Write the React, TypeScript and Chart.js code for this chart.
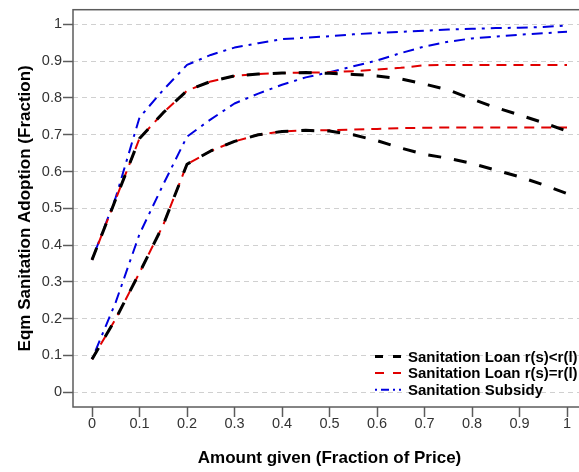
import { useEffect, useRef } from "react";
import { Chart, registerables } from "chart.js";

Chart.register(...registerables);

// Amount given, as a fraction of the price
const amountGiven = [
  0, 0.05, 0.1, 0.15, 0.2, 0.25, 0.3, 0.35, 0.4, 0.45, 0.5,
  0.55, 0.6, 0.65, 0.7, 0.75, 0.8, 0.85, 0.9, 0.95, 1,
];

// Sanitation loan, r(s) < r(l)
const loanLessHigh = [
  0.36, 0.525, 0.69, 0.76, 0.82, 0.845, 0.86, 0.865, 0.868, 0.869, 0.867,
  0.864, 0.86, 0.852, 0.838, 0.822, 0.797, 0.774, 0.754, 0.733, 0.71,
];
const loanLessLow = [
  0.09, 0.2, 0.325, 0.455, 0.62, 0.656, 0.682, 0.7, 0.709, 0.712, 0.71,
  0.7, 0.684, 0.664, 0.647, 0.636, 0.622, 0.604, 0.586, 0.564, 0.54,
];

// Sanitation loan, r(s) = r(l)
const loanEqualHigh = [
  0.36, 0.525, 0.69, 0.76, 0.82, 0.845, 0.86, 0.865, 0.868, 0.869, 0.87,
  0.873, 0.877, 0.882, 0.889, 0.89, 0.89, 0.89, 0.89, 0.89, 0.89,
];
const loanEqualLow = [
  0.09, 0.2, 0.325, 0.455, 0.62, 0.656, 0.682, 0.7, 0.709, 0.712, 0.712,
  0.714, 0.716, 0.718, 0.719, 0.72, 0.72, 0.72, 0.72, 0.72, 0.72,
];

// Sanitation subsidy
const subsidyHigh = [
  0.36, 0.53, 0.747, 0.822, 0.89, 0.917, 0.937, 0.949, 0.96, 0.964, 0.968,
  0.973, 0.977, 0.98, 0.983, 0.986, 0.988, 0.99, 0.991, 0.993, 0.997,
];
const subsidyLow = [
  0.09, 0.245, 0.43, 0.565, 0.695, 0.742, 0.785, 0.812, 0.836, 0.856, 0.87,
  0.886, 0.902, 0.922, 0.94, 0.953, 0.962, 0.967, 0.972, 0.976, 0.98,
];

const seriesNames = [
  "Sanitation Loan r(s)<r(l)",
  "Sanitation Loan r(s)=r(l)",
  "Sanitation Subsidy",
];

const xTickValues = [0, 0.1, 0.2, 0.3, 0.4, 0.5, 0.6, 0.7, 0.8, 0.9, 1];
const xTickLabels = ["0", "0.1", "0.2", "0.3", "0.4", "0.5", "0.6", "0.7", "0.8", "0.9", "1"];
const yTickValues = [0, 0.1, 0.2, 0.3, 0.4, 0.5, 0.6, 0.7, 0.8, 0.9, 1];
const yTickLabels = ["0", "0.1", "0.2", "0.3", "0.4", "0.5", "0.6", "0.7", "0.8", "0.9", "1"];

const FONT = "'Liberation Sans', Arial, Helvetica, sans-serif";
const AXIS_GREY = "#5c5c5c";

const seriesStyles = [
  { color: "#000000", width: 3, dash: [13, 13], sampleDash: [8, 10], order: 0 },
  { color: "#e00000", width: 2, dash: [10, 7], sampleDash: [9, 9], order: 1 },
  { color: "#0000e0", width: 2, dash: [3, 6, 11, 6], sampleDash: [2, 4, 8, 4], order: 2 },
];

const toPoints = (ys: number[]) => amountGiven.map((x, i) => ({ x, y: ys[i] }));

const makeLine = (ys: number[], styleIndex: number, label: string) => {
  const s = seriesStyles[styleIndex];
  return {
    label,
    data: toPoints(ys),
    borderColor: s.color,
    backgroundColor: s.color,
    borderWidth: s.width,
    borderDash: s.dash,
    borderCapStyle: "butt" as const,
    borderJoinStyle: "round" as const,
    pointRadius: 0,
    tension: 0,
    fill: false,
    order: s.order,
  };
};

// Box round the plot region and the legend in its lower right corner
const framePlugin = {
  id: "frameAndKey",
  afterDatasetsDraw(chart: Chart) {
    const { ctx, chartArea } = chart;
    ctx.save();
    ctx.strokeStyle = AXIS_GREY;
    ctx.lineWidth = 1.5;
    ctx.setLineDash([]);
    ctx.strokeRect(
      chartArea.left,
      chartArea.top,
      chartArea.right - chartArea.left,
      chartArea.bottom - chartArea.top
    );

    const rowOffsets = [49.5, 33, 16.3];
    const sampleStart = chartArea.left + 302;
    const sampleEnd = sampleStart + 26;
    const textX = sampleEnd + 7;
    seriesNames.forEach((name, i) => {
      const s = seriesStyles[i];
      const y = chartArea.bottom - rowOffsets[i];
      ctx.beginPath();
      ctx.strokeStyle = s.color;
      ctx.lineWidth = s.width;
      ctx.lineCap = "butt";
      ctx.setLineDash(s.sampleDash);
      ctx.moveTo(sampleStart, y - 1);
      ctx.lineTo(sampleEnd, y - 1);
      ctx.stroke();

      ctx.setLineDash([]);
      ctx.fillStyle = "#000";
      ctx.font = `bold 15px ${FONT}`;
      ctx.textAlign = "left";
      ctx.textBaseline = "middle";
      ctx.fillText(name, textX, y);
    });
    ctx.restore();
  },
};

export default function App() {
  const canvasRef = useRef<HTMLCanvasElement | null>(null);

  useEffect(() => {
    const canvas = canvasRef.current;
    if (!canvas) return;

    const chart = new Chart(canvas, {
      type: "line",
      data: {
        datasets: [
          makeLine(loanLessHigh, 0, seriesNames[0]),
          makeLine(loanLessLow, 0, seriesNames[0]),
          makeLine(loanEqualHigh, 1, seriesNames[1]),
          makeLine(loanEqualLow, 1, seriesNames[1]),
          makeLine(subsidyHigh, 2, seriesNames[2]),
          makeLine(subsidyLow, 2, seriesNames[2]),
        ],
      },
      options: {
        responsive: false,
        devicePixelRatio: 1,
        animation: false,
        layout: { padding: { top: 7, right: 14, left: 0, bottom: 0 } },
        plugins: {
          legend: { display: false },
          tooltip: { enabled: false },
        },
        scales: {
          x: {
            type: "linear",
            min: -0.04,
            max: 1.04,
            afterBuildTicks: (scale: any) => {
              scale.ticks = xTickValues.map((value) => ({ value }));
            },
            afterFit: (scale: any) => {
              scale.height = 65;
            },
            ticks: {
              autoSkip: false,
              maxRotation: 0,
              padding: -2,
              color: "#333",
              font: { family: FONT, size: 14.5 },
              callback: (_v: any, i: number) => xTickLabels[i],
            },
            grid: {
              drawOnChartArea: false,
              drawTicks: true,
              tickLength: 10,
              tickColor: AXIS_GREY,
              tickWidth: 1.5,
            },
            border: { display: false },
            title: {
              display: true,
              text: "Amount given (Fraction of Price)",
              color: "#000",
              font: { family: FONT, size: 17, weight: "bold" },
              padding: { top: 0, bottom: 3.8 },
            },
          },
          y: {
            type: "linear",
            min: -0.04,
            max: 1.04,
            afterBuildTicks: (scale: any) => {
              scale.ticks = yTickValues.map((value) => ({ value }));
            },
            afterFit: (scale: any) => {
              scale.width = 73;
            },
            ticks: {
              autoSkip: false,
              padding: 1,
              color: "#333",
              font: { family: FONT, size: 14.5 },
              callback: (_v: any, i: number) => yTickLabels[i],
            },
            grid: {
              color: "#d0d0d0",
              lineWidth: 1,
              drawTicks: true,
              tickLength: 10,
              tickColor: AXIS_GREY,
              tickWidth: 1.5,
              tickBorderDash: [],
            },
            border: { display: false, dash: [5, 4] },
            title: {
              display: true,
              text: "Eqm Sanitation Adoption (Fraction)",
              color: "#000",
              font: { family: FONT, size: 17, weight: "bold" },
              padding: { top: 14.8, bottom: 0 },
            },
          },
        },
      },
      plugins: [framePlugin],
    } as any);

    return () => chart.destroy();
  }, []);

  return (
    <div
      style={{
        position: "fixed",
        left: 0,
        top: 0,
        width: 579,
        height: 472,
        overflow: "hidden",
        background: "#fff",
      }}
    >
      <canvas
        ref={canvasRef}
        width={600}
        height={472}
        style={{ display: "block", width: 600, height: 472 }}
      />
    </div>
  );
}
